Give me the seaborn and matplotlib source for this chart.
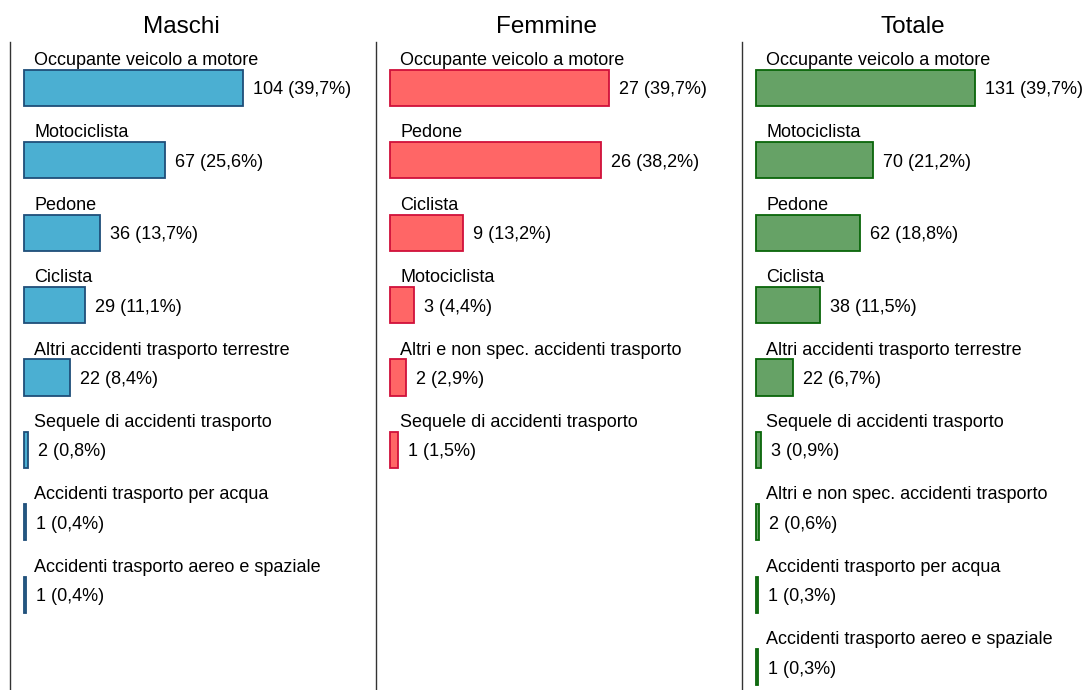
import seaborn as sns
import matplotlib.pyplot as plt

sns.set_style('white')
plt.rcParams['font.family'] = ['Liberation Sans', 'DejaVu Sans']

maschi_labels = ['Occupante veicolo a motore', 'Motociclista', 'Pedone', 'Ciclista',
                 'Altri accidenti trasporto terrestre', 'Sequele di accidenti trasporto',
                 'Accidenti trasporto per acqua', 'Accidenti trasporto aereo e spaziale']
maschi_values = [104, 67, 36, 29, 22, 2, 1, 1]

femmine_labels = ['Occupante veicolo a motore', 'Pedone', 'Ciclista', 'Motociclista',
                  'Altri e non spec. accidenti trasporto', 'Sequele di accidenti trasporto']
femmine_values = [27, 26, 9, 3, 2, 1]

totale_labels = ['Occupante veicolo a motore', 'Motociclista', 'Pedone', 'Ciclista',
                 'Altri accidenti trasporto terrestre', 'Sequele di accidenti trasporto',
                 'Altri e non spec. accidenti trasporto', 'Accidenti trasporto per acqua',
                 'Accidenti trasporto aereo e spaziale']
totale_values = [131, 70, 62, 38, 22, 3, 2, 1, 1]

panel_titles = ['Maschi', 'Femmine', 'Totale']
fills = ['#4BAFD2', '#FF6666', '#66A266']
edges = ['#1F4E79', '#D0103A', '#0A660A']

W, H = 1083, 690
PANEL_W = 366
BAR_MAX = 219   # pixels for the largest bar in each panel
BAR_OFF = 14    # pixels between axis line and bar start
ROW = 72.4      # pixels per row


def fmt(v, total):
    return f'{v} ({v / total * 100:.1f}%)'.replace('.', ',')


def draw_panel(ax, labels, values, title, fill, edge):
    sns.barplot(x=values, y=labels, orient='h', color=fill, edgecolor=edge,
                linewidth=1.3, width=0.5, saturation=1, ax=ax)
    vmax = max(values)
    px = vmax / BAR_MAX
    ax.set_xlim(-BAR_OFF * px, (PANEL_W - BAR_OFF) * px)
    ax.set_ylim(8 + 23 / ROW, -46 / ROW)
    total = sum(values)
    for i, (lab, v) in enumerate(zip(labels, values)):
        ax.text(10 * px, i - 23 / ROW, lab, ha='left', va='baseline', fontsize=13, color='black')
        ax.text(v + 10 * px, i + 2 / ROW, fmt(v, total), ha='left', va='center', fontsize=13, color='black')
    ax.text(171 / PANEL_W, 1 + 9 / 648, title, transform=ax.transAxes,
            ha='center', va='baseline', fontsize=17.5, color='black')
    ax.set_xticks([])
    ax.set_yticks([])
    ax.set_xlabel('')
    ax.set_ylabel('')
    for side in ['top', 'right', 'bottom']:
        ax.spines[side].set_visible(False)
    ax.spines['left'].set_color('#333333')
    ax.spines['left'].set_linewidth(1.0)


fig = plt.figure(figsize=(W / 100, H / 100), dpi=100)
data = [(maschi_labels, maschi_values), (femmine_labels, femmine_values), (totale_labels, totale_values)]
for k, (labels, values) in enumerate(data):
    left = 10 + k * PANEL_W
    ax = fig.add_axes([left / W, 0, PANEL_W / W, 648 / H])
    ax.patch.set_alpha(0)
    draw_panel(ax, labels, values, panel_titles[k], fills[k], edges[k])

fig.savefig('out.png', dpi=100)
